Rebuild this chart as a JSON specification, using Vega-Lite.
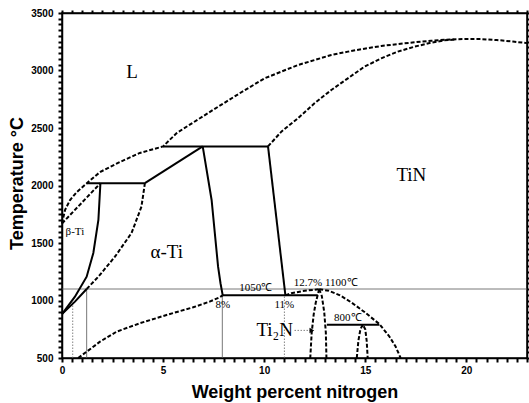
{
  "$schema": "https://vega.github.io/schema/vega-lite/v6.json",
  "width": 465,
  "height": 345,
  "autosize": {"type": "none"},
  "padding": {"left": 62, "top": 13, "right": 2, "bottom": 45},
  "background": "white",
  "config": {"view": {"stroke": "black", "strokeWidth": 1.5}},
  "datasets": {
    "dashed": [
      {"s": "D1", "x": 0, "t": 1670}, {"s": "D1", "x": 0.15, "t": 1787}, {"s": "D1", "x": 0.4, "t": 1874}, {"s": "D1", "x": 0.73, "t": 1943}, {"s": "D1", "x": 1.23, "t": 2020}, {"s": "D1", "x": 1.88, "t": 2117}, {"s": "D1", "x": 2.86, "t": 2204}, {"s": "D1", "x": 3.85, "t": 2283}, {"s": "D1", "x": 5.0, "t": 2340}, {"s": "D1", "x": 5.66, "t": 2454}, {"s": "D1", "x": 6.16, "t": 2511}, {"s": "D1", "x": 7.47, "t": 2657}, {"s": "D1", "x": 8.79, "t": 2802}, {"s": "D1", "x": 10.02, "t": 2932}, {"s": "D1", "x": 10.85, "t": 2990}, {"s": "D1", "x": 11.67, "t": 3048}, {"s": "D1", "x": 12.5, "t": 3091}, {"s": "D1", "x": 13.32, "t": 3135}, {"s": "D1", "x": 14.14, "t": 3164}, {"s": "D1", "x": 14.96, "t": 3190}, {"s": "D1", "x": 15.79, "t": 3213}, {"s": "D1", "x": 16.61, "t": 3230}, {"s": "D1", "x": 17.43, "t": 3245}, {"s": "D1", "x": 18.26, "t": 3259}, {"s": "D1", "x": 19.24, "t": 3270}, {"s": "D1", "x": 20.0, "t": 3274}, {"s": "D1", "x": 20.74, "t": 3273}, {"s": "D1", "x": 21.5, "t": 3265}, {"s": "D1", "x": 22.3, "t": 3252}, {"s": "D1", "x": 23, "t": 3238},
      {"s": "D2", "x": 10.19, "t": 2340}, {"s": "D2", "x": 10.85, "t": 2468}, {"s": "D2", "x": 11.67, "t": 2584}, {"s": "D2", "x": 12.5, "t": 2717}, {"s": "D2", "x": 13.32, "t": 2830}, {"s": "D2", "x": 14.14, "t": 2932}, {"s": "D2", "x": 14.96, "t": 3033}, {"s": "D2", "x": 15.79, "t": 3106}, {"s": "D2", "x": 16.61, "t": 3164}, {"s": "D2", "x": 17.43, "t": 3207}, {"s": "D2", "x": 18.26, "t": 3242}, {"s": "D2", "x": 18.91, "t": 3262}, {"s": "D2", "x": 19.5, "t": 3270},
      {"s": "D3", "x": 0, "t": 1670}, {"s": "D3", "x": 1.9, "t": 2020},
      {"s": "D4", "x": 1.22, "t": 1100}, {"s": "D4", "x": 1.8, "t": 1207}, {"s": "D4", "x": 2.62, "t": 1381}, {"s": "D4", "x": 3.44, "t": 1587}, {"s": "D4", "x": 3.93, "t": 1816}, {"s": "D4", "x": 4.1, "t": 2020},
      {"s": "D5", "x": 0.8, "t": 500}, {"s": "D5", "x": 1.22, "t": 555}, {"s": "D5", "x": 1.88, "t": 642}, {"s": "D5", "x": 2.7, "t": 729}, {"s": "D5", "x": 3.85, "t": 802}, {"s": "D5", "x": 5.17, "t": 874}, {"s": "D5", "x": 6.49, "t": 941}, {"s": "D5", "x": 7.3, "t": 990}, {"s": "D5", "x": 7.8, "t": 1028}, {"s": "D5", "x": 7.95, "t": 1045},
      {"s": "D6", "x": 11.05, "t": 1045}, {"s": "D6", "x": 11.34, "t": 1063}, {"s": "D6", "x": 11.9, "t": 1082}, {"s": "D6", "x": 12.49, "t": 1094}, {"s": "D6", "x": 12.72, "t": 1098},
      {"s": "D7", "x": 12.72, "t": 1098}, {"s": "D7", "x": 13.2, "t": 1085}, {"s": "D7", "x": 13.75, "t": 1045}, {"s": "D7", "x": 14.3, "t": 985}, {"s": "D7", "x": 14.96, "t": 900}, {"s": "D7", "x": 15.7, "t": 795}, {"s": "D7", "x": 16.2, "t": 685}, {"s": "D7", "x": 16.5, "t": 600}, {"s": "D7", "x": 16.75, "t": 500},
      {"s": "D8", "x": 12.72, "t": 1098}, {"s": "D8", "x": 12.55, "t": 980}, {"s": "D8", "x": 12.45, "t": 880}, {"s": "D8", "x": 12.35, "t": 720}, {"s": "D8", "x": 12.28, "t": 500},
      {"s": "D9", "x": 12.72, "t": 1098}, {"s": "D9", "x": 12.85, "t": 1040}, {"s": "D9", "x": 12.97, "t": 900}, {"s": "D9", "x": 13.05, "t": 720}, {"s": "D9", "x": 13.08, "t": 500},
      {"s": "D10", "x": 14.58, "t": 500}, {"s": "D10", "x": 14.66, "t": 650}, {"s": "D10", "x": 14.76, "t": 750}, {"s": "D10", "x": 14.88, "t": 790}, {"s": "D10", "x": 15.0, "t": 750}, {"s": "D10", "x": 15.07, "t": 650}, {"s": "D10", "x": 15.12, "t": 500}
    ],
    "solid": [
      {"s": "S1", "x": 0, "t": 882}, {"s": "S1", "x": 0.64, "t": 1033}, {"s": "S1", "x": 1.22, "t": 1207}, {"s": "S1", "x": 1.55, "t": 1413}, {"s": "S1", "x": 1.8, "t": 1700}, {"s": "S1", "x": 1.9, "t": 2020},
      {"s": "S1b", "x": 0, "t": 882}, {"s": "S1b", "x": 0.64, "t": 990}, {"s": "S1b", "x": 1.22, "t": 1100},
      {"s": "S2", "x": 1.22, "t": 2020}, {"s": "S2", "x": 4.1, "t": 2020},
      {"s": "S3", "x": 4.1, "t": 2020}, {"s": "S3", "x": 6.96, "t": 2340},
      {"s": "S4", "x": 5.0, "t": 2340}, {"s": "S4", "x": 10.19, "t": 2340},
      {"s": "S5", "x": 6.96, "t": 2340}, {"s": "S5", "x": 7.4, "t": 1874}, {"s": "S5", "x": 7.56, "t": 1584}, {"s": "S5", "x": 7.72, "t": 1294}, {"s": "S5", "x": 7.84, "t": 1150}, {"s": "S5", "x": 7.95, "t": 1045},
      {"s": "S6", "x": 7.95, "t": 1045}, {"s": "S6", "x": 12.65, "t": 1045},
      {"s": "S7", "x": 10.19, "t": 2340}, {"s": "S7", "x": 11.05, "t": 1045},
      {"s": "S8", "x": 13.1, "t": 790}, {"s": "S8", "x": 15.7, "t": 790}
    ],
    "guides": [
      {"s": "G1", "x": 0, "t": 1100}, {"s": "G1", "x": 23, "t": 1100},
      {"s": "G2", "x": 1.22, "t": 500}, {"s": "G2", "x": 1.22, "t": 1100},
      {"s": "G4", "x": 7.93, "t": 500}, {"s": "G4", "x": 7.93, "t": 1045}
    ],
    "dotted": [
      {"s": "G3", "x": 0.53, "t": 500}, {"s": "G3", "x": 0.53, "t": 1000},
      {"s": "G5", "x": 11.0, "t": 500}, {"s": "G5", "x": 11.0, "t": 1045},
      {"s": "A", "x": 11.5, "t": 740}, {"s": "A", "x": 12.3, "t": 740}
    ],
    "arrowhead": [{"x": 12.36, "t": 740}],
    "bigLabels": [
      {"x": 3.46, "t": 2987, "label": "L"},
      {"x": 17.28, "t": 2091, "label": "TiN"},
      {"x": 5.18, "t": 1422, "label": "α-Ti"},
      {"x": 10.52, "t": 743, "label": "Ti₂N"}
    ],
    "smallLabels": [
      {"x": 0.64, "t": 1596, "label": "β-Ti"},
      {"x": 9.58, "t": 1106, "label": "1050℃"},
      {"x": 7.95, "t": 961, "label": "8%"},
      {"x": 11.0, "t": 961, "label": "11%"},
      {"x": 13.04, "t": 1150, "label": "12.7% 1100℃"},
      {"x": 14.14, "t": 845, "label": "800℃"}
    ],
    "frame": [{"x": 0, "t": 500}]
  },
  "layer": [
    {
      "data": {"name": "guides"},
      "mark": {"type": "line", "color": "#555555", "strokeWidth": 0.8},
      "encoding": {
        "x": {"field": "x", "type": "quantitative", "scale": {"domain": [0, 23], "nice": false, "zero": false},
          "axis": {"orient": "bottom", "tickCount": 46, "ticks": true, "tickColor": "black", "tickWidth": 2,
            "labelExpr": "datum.value % 5 === 0 ? format(datum.value, 'd') : ''", "labelOverlap": false, "labelFlush": false,
            "tickSize": 4, "labelPadding": 3, "domainColor": "black", "domainWidth": 1.5, "grid": false,
            "labelFont": "Liberation Sans", "labelFontWeight": "bold", "labelFontSize": 10, "labelColor": "black",
            "title": "Weight percent nitrogen", "titleFont": "Liberation Sans", "titleFontSize": 18, "titleFontWeight": "bold", "titleColor": "black",
            "titleX": 232.5, "titleY": 39, "titleBaseline": "alphabetic", "titleAlign": "center"}},
        "y": {"field": "t", "type": "quantitative", "scale": {"domain": [500, 3500], "nice": false, "zero": false},
          "axis": {"orient": "left", "tickCount": 60, "ticks": true, "tickColor": "black", "tickWidth": 2,
            "labelExpr": "datum.value % 500 === 0 ? format(datum.value, 'd') : ''", "labelOverlap": false, "labelFlush": false,
            "tickSize": 4, "labelPadding": 5, "domainColor": "black", "domainWidth": 1.5, "grid": false,
            "labelFont": "Liberation Sans", "labelFontWeight": "bold", "labelFontSize": 10, "labelColor": "black",
            "title": "Temperature °C", "titleFont": "Liberation Sans", "titleFontSize": 18, "titleFontWeight": "bold", "titleColor": "black",
            "titleX": -45, "titleY": 170, "titleAngle": -90, "titleBaseline": "middle", "titleAlign": "center"}},
        "detail": {"field": "s"},
        "order": {"value": null}
      }
    },
    {
      "data": {"name": "frame"},
      "mark": {"type": "point", "opacity": 0},
      "encoding": {
        "x": {"field": "x", "type": "quantitative", "scale": {"domain": [0, 23], "nice": false, "zero": false},
          "axis": {"orient": "top", "tickCount": 46, "ticks": true, "tickColor": "black", "tickWidth": 2, "labels": false, "title": null, "tickSize": 3, "domainColor": "black", "domainWidth": 1.5, "grid": false}},
        "y": {"field": "t", "type": "quantitative", "scale": {"domain": [500, 3500], "nice": false, "zero": false},
          "axis": {"orient": "right", "tickCount": 60, "ticks": true, "tickColor": "black", "tickWidth": 2, "labels": false, "title": null, "tickSize": 2, "domainColor": "black", "domainWidth": 1.5, "grid": false}}
      }
    },
    {
      "data": {"name": "dotted"},
      "mark": {"type": "line", "color": "#666666", "strokeWidth": 0.8, "strokeDash": [1.5, 1.5]},
      "encoding": {
        "x": {"field": "x", "type": "quantitative", "scale": {"domain": [0, 23], "nice": false, "zero": false}, "axis": null},
        "y": {"field": "t", "type": "quantitative", "scale": {"domain": [500, 3500], "nice": false, "zero": false}, "axis": null},
        "detail": {"field": "s"},
        "order": {"value": null}
      }
    },
    {
      "data": {"name": "dashed"},
      "mark": {"type": "line", "color": "black", "strokeWidth": 2, "strokeDash": [4, 2]},
      "encoding": {
        "x": {"field": "x", "type": "quantitative", "scale": {"domain": [0, 23], "nice": false, "zero": false}, "axis": null},
        "y": {"field": "t", "type": "quantitative", "scale": {"domain": [500, 3500], "nice": false, "zero": false}, "axis": null},
        "detail": {"field": "s"},
        "order": {"value": null}
      }
    },
    {
      "data": {"name": "solid"},
      "mark": {"type": "line", "color": "black", "strokeWidth": 2},
      "encoding": {
        "x": {"field": "x", "type": "quantitative", "scale": {"domain": [0, 23], "nice": false, "zero": false}, "axis": null},
        "y": {"field": "t", "type": "quantitative", "scale": {"domain": [500, 3500], "nice": false, "zero": false}, "axis": null},
        "detail": {"field": "s"},
        "order": {"value": null}
      }
    },
    {
      "data": {"name": "arrowhead"},
      "mark": {"type": "point", "shape": "triangle-right", "filled": true, "color": "black", "size": 30, "opacity": 1},
      "encoding": {
        "x": {"field": "x", "type": "quantitative", "scale": {"domain": [0, 23], "nice": false, "zero": false}, "axis": null},
        "y": {"field": "t", "type": "quantitative", "scale": {"domain": [500, 3500], "nice": false, "zero": false}, "axis": null}
      }
    },
    {
      "data": {"name": "bigLabels"},
      "mark": {"type": "text", "font": "Liberation Serif", "fontSize": 19, "color": "black", "baseline": "middle", "align": "center"},
      "encoding": {
        "x": {"field": "x", "type": "quantitative", "scale": {"domain": [0, 23], "nice": false, "zero": false}, "axis": null},
        "y": {"field": "t", "type": "quantitative", "scale": {"domain": [500, 3500], "nice": false, "zero": false}, "axis": null},
        "text": {"field": "label"}
      }
    },
    {
      "data": {"name": "smallLabels"},
      "mark": {"type": "text", "font": "Liberation Serif", "fontSize": 11, "color": "black", "baseline": "middle", "align": "center"},
      "encoding": {
        "x": {"field": "x", "type": "quantitative", "scale": {"domain": [0, 23], "nice": false, "zero": false}, "axis": null},
        "y": {"field": "t", "type": "quantitative", "scale": {"domain": [500, 3500], "nice": false, "zero": false}, "axis": null},
        "text": {"field": "label"}
      }
    }
  ],
  "resolve": {"axis": {"x": "independent", "y": "independent"}}
}
